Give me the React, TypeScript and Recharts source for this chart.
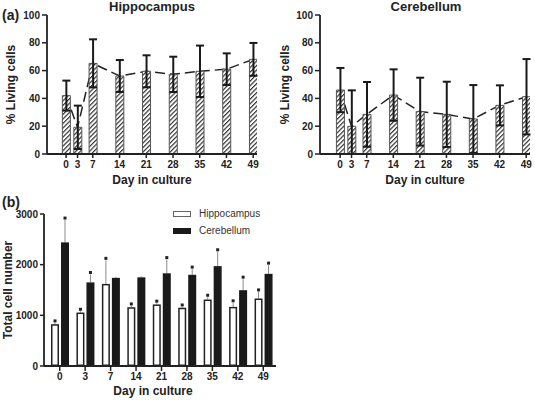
import React from 'react';
import { ComposedChart, BarChart, Bar, Line, XAxis, YAxis, ErrorBar, Legend } from 'recharts';

// ---- data ----
const days = [0, 3, 7, 14, 21, 28, 35, 42, 49];
const hippoLiving = [42, 19.2, 65.2, 56.1, 59.5, 57.3, 59.5, 61, 68.1];
const hippoLivingErr = [10.8, 15.6, 17.3, 11.5, 11.5, 12.7, 18.5, 11.4, 11.8];
const cerebLiving = [46, 19.9, 28.5, 42.4, 30.5, 28.5, 25.2, 35, 41.2];
const cerebLivingErr = [15.9, 25.9, 23.3, 18.5, 24.4, 23.5, 24.4, 14.4, 27.1];

const dayLabels = ['0', '3', '7', '14', '21', '28', '35', '42', '49'];
const seriesNames = ['Hippocampus', 'Cerebellum'];
const hippoTotal = [825, 1055, 1620, 1160, 1215, 1150, 1312, 1167, 1332];
const hippoTotalErr = [25, 25, 465, 25, 25, 15, 45, 80, 130];
const hippoSig = [true, true, true, true, true, true, true, true, true];
const cerebTotal = [2440, 1650, 1740, 1750, 1830, 1800, 1971, 1496, 1819];
const cerebTotalErr = [440, 156, 20, 20, 270, 112, 283, 218, 172];
const cerebSig = [true, true, false, false, true, true, true, true, true];

const livingTicks = [0, 20, 40, 60, 80, 100];
const totalTicks = [0, 1000, 2000, 3000];

const FONT = '"Liberation Sans", Arial, sans-serif';
const INK = '#222';

const tickStyle = { fontFamily: FONT, fontWeight: 700, fontSize: 10, fill: INK };
const axisTitleStyle = { fontFamily: FONT, fontWeight: 700, fontSize: 12, fill: INK };

type PanelProps = {
  values: number[];
  errs: number[];
  left: number;
  width: number;
  yAxisWidth: number;
  marginRight: number;
  domainMin: number;
  yTitleOffset: number;
};

function LivingPanel({ values, errs, left, width, yAxisWidth, marginRight, domainMin, yTitleOffset }: PanelProps) {
  const data = days.map((d, i) => ({ day: d, v: values[i], err: errs[i] }));
  return (
    <div style={{ position: 'absolute', left, top: 0 }}>
      <ComposedChart width={width} height={195} data={data} margin={{ top: 15, right: marginRight, left: 0, bottom: 11 }}>
        <XAxis
          type="number"
          dataKey="day"
          domain={[domainMin, 50]}
          ticks={days}
          interval={0}
          allowDataOverflow
          height={30}
          tickSize={4}
          tickMargin={3}
          tick={tickStyle}
          axisLine={{ stroke: INK, strokeWidth: 1.8 }}
          tickLine={{ stroke: INK, strokeWidth: 1.5 }}
          label={{ value: 'Day in culture', position: 'insideBottom', offset: 0, style: axisTitleStyle }}
        />
        <YAxis
          type="number"
          domain={[0, 100]}
          ticks={livingTicks}
          interval={0}
          width={yAxisWidth}
          tickSize={5}
          tickMargin={2}
          tick={tickStyle}
          axisLine={{ stroke: INK, strokeWidth: 1.8 }}
          tickLine={{ stroke: INK, strokeWidth: 1.5 }}
          label={{ value: '% Living cells', angle: -90, position: 'insideLeft', offset: yTitleOffset, style: { ...axisTitleStyle, textAnchor: 'middle' } }}
        />
        <Line
          dataKey="v"
          type="linear"
          stroke={INK}
          strokeWidth={1.5}
          strokeDasharray="10 5"
          dot={false}
          activeDot={false}
          isAnimationActive={false}
          zIndex={250}
        />
        <Bar dataKey="v" barSize={8} fill="url(#hatch)" stroke="#555" strokeWidth={1} isAnimationActive={false}>
          <ErrorBar
            dataKey={(d: any) => [Math.min(d.err, d.v), d.err]}
            direction="y"
            width={4}
            stroke="#1a1a1a"
            strokeWidth={2}
          />
        </Bar>
      </ComposedChart>
    </div>
  );
}

function totalShape(key: 'hippo' | 'cereb', fill: string, stroke: string) {
  return (props: any) => {
    const { x, y, width, height, payload } = props;
    const v = payload[key];
    const e = payload[key + 'Err'];
    const sig = payload[key + 'Sig'];
    const k = v ? height / v : 0;
    const cx = x + width / 2;
    const top = y - e * k;
    return (
      <g>
        <line x1={cx} y1={y} x2={cx} y2={top} stroke="#8a8a8a" strokeWidth={1} />
        <rect x={x + 0.75} y={y + 0.75} width={width - 1.5} height={Math.max(0, height - 1.5)} fill={fill} stroke={stroke} strokeWidth={1.5} />
        {sig && <rect x={cx - 1.5} y={top - 3.5} width={3} height={3} fill="#222" />}
      </g>
    );
  };
}

const swatches: Record<string, { fill: string; stroke: string }> = {
  Hippocampus: { fill: '#fff', stroke: '#666' },
  Cerebellum: { fill: '#1a1a1a', stroke: '#1a1a1a' },
};

function TotalPanel() {
  const data = dayLabels.map((d, i) => ({
    day: d,
    hippo: hippoTotal[i],
    hippoErr: hippoTotalErr[i],
    hippoSig: hippoSig[i],
    cereb: cerebTotal[i],
    cerebErr: cerebTotalErr[i],
    cerebSig: cerebSig[i],
  }));
  return (
    <div style={{ position: 'absolute', left: 0, top: 195 }}>
      <BarChart width={290} height={205} data={data} margin={{ top: 19, right: 14, left: 0, bottom: 4 }} barGap={2} barSize={8}>
        <XAxis
          dataKey="day"
          interval={0}
          height={30}
          padding={{ left: 3, right: 0 }}
          tickSize={5}
          tickMargin={2}
          tick={tickStyle}
          axisLine={{ stroke: INK, strokeWidth: 1.8 }}
          tickLine={{ stroke: INK, strokeWidth: 1.5 }}
          label={{ value: 'Day in culture', position: 'insideBottom', offset: 1, dx: -7, style: axisTitleStyle }}
        />
        <YAxis
          type="number"
          domain={[0, 3000]}
          ticks={totalTicks}
          interval={0}
          width={44}
          tickSize={4}
          tickMargin={2}
          tick={tickStyle}
          axisLine={{ stroke: INK, strokeWidth: 1.8 }}
          tickLine={{ stroke: INK, strokeWidth: 1.5 }}
          label={{ value: 'Total cell number', angle: -90, position: 'insideLeft', offset: 7.5, style: { ...axisTitleStyle, textAnchor: 'middle' } }}
        />
        <Legend
          layout="vertical"
          align="center"
          verticalAlign="middle"
          wrapperStyle={{ left: 173, top: 10, width: 110, height: 36 }}
          content={({ payload }: any) => {
            const items = [...(payload || [])].sort(
              (a: any, b: any) => seriesNames.indexOf(a.value) - seriesNames.indexOf(b.value),
            );
            return (
              <div>
                {items.map((p: any) => {
                  const s = swatches[p.value] || { fill: '#000', stroke: '#000' };
                  return (
                    <div key={p.value} style={{ display: 'flex', alignItems: 'center', height: 17.6 }}>
                      <svg width={18} height={6} style={{ display: 'block' }}>
                        <rect x={0.5} y={0.5} width={17} height={5} fill={s.fill} stroke={s.stroke} strokeWidth={1} />
                      </svg>
                      <span style={{ marginLeft: 8, fontFamily: FONT, fontSize: 10, color: '#333', lineHeight: '12px' }}>{p.value}</span>
                    </div>
                  );
                })}
              </div>
            );
          }}
        />
        <Bar dataKey="hippo" name={seriesNames[0]} fill="#fff" stroke="#222" isAnimationActive={false} shape={totalShape('hippo', '#fff', '#222')} />
        <Bar dataKey="cereb" name={seriesNames[1]} fill="#1a1a1a" stroke="#1a1a1a" isAnimationActive={false} shape={totalShape('cereb', '#1a1a1a', '#1a1a1a')} />
      </BarChart>
    </div>
  );
}

const titleStyle: React.CSSProperties = {
  position: 'absolute',
  top: 0,
  fontFamily: FONT,
  fontWeight: 700,
  fontSize: 13,
  lineHeight: '14px',
  color: INK,
  transform: 'translateX(-50%)',
  whiteSpace: 'nowrap',
};

const panelTagStyle: React.CSSProperties = {
  position: 'absolute',
  fontFamily: FONT,
  fontWeight: 700,
  fontSize: 14,
  lineHeight: '16px',
  color: INK,
};

export default function App() {
  return (
    <div style={{ position: 'absolute', left: 0, top: 0, width: 535, height: 400, background: '#fff', overflow: 'hidden' }}>
      <svg width={0} height={0} style={{ position: 'absolute' }}>
        <defs>
          <pattern id="hatch" patternUnits="userSpaceOnUse" width="3.2" height="3.2" patternTransform="rotate(45)">
            <rect width="3.2" height="3.2" fill="#fff" />
            <line x1="0.6" y1="0" x2="0.6" y2="3.2" stroke="#333" strokeWidth="1.2" />
          </pattern>
        </defs>
      </svg>
      <LivingPanel values={hippoLiving} errs={hippoLivingErr} left={0} width={270} yAxisWidth={47} marginRight={13} domainMin={-5} yTitleOffset={11} />
      <LivingPanel values={cerebLiving} errs={cerebLivingErr} left={270} width={265} yAxisWidth={50} marginRight={5} domainMin={-5.3} yTitleOffset={15} />
      <TotalPanel />
      <div style={{ ...titleStyle, left: 152 }}>Hippocampus</div>
      <div style={{ ...titleStyle, left: 426 }}>Cerebellum</div>
      <div style={{ ...panelTagStyle, left: 2, top: 7 }}>(a)</div>
      <div style={{ ...panelTagStyle, left: 2, top: 194 }}>(b)</div>
    </div>
  );
}
